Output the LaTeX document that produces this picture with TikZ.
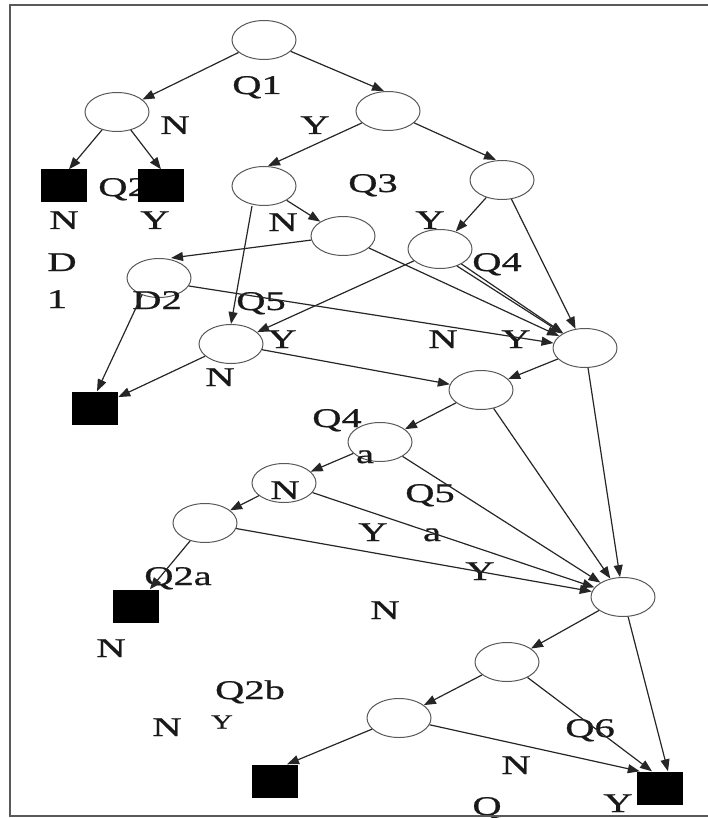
\documentclass[tikz,border=0pt]{standalone}
\usepackage{fontspec}
\setmainfont{Liberation Serif}[FakeStretch=1.5,FakeBold=0.8]
\usetikzlibrary{shapes.geometric,arrows.meta}
\begin{document}
\begin{tikzpicture}[x=1pt,y=-1pt,
  st/.style={draw=black!65, line width=1pt, ellipse, minimum width=64pt, minimum height=39pt, inner sep=0pt},
  sq/.style={fill=black, draw=none, minimum width=46pt, minimum height=33pt, inner sep=0pt},
  lbl/.style={font=\fontsize{27}{30}\selectfont, anchor=base, yshift=-9pt, inner sep=0pt, text=black!90},
  lbla/.style={font=\fontsize{27}{30}\selectfont, anchor=base, yshift=-6pt, inner sep=0pt, text=black!90},
  lbls/.style={font=\fontsize{20}{24}\selectfont, anchor=base, yshift=-6.5pt, inner sep=0pt, text=black!90},
  ar/.style={-{Triangle[length=12pt,width=9pt]}, line width=1.2pt, black!85},
]
\useasboundingbox (0,0) rectangle (707,818);
% decision nodes
\node[st] (n1) at (264,40) {};
\node[st] (n2) at (117,112) {};
\node[st] (n3) at (388,111) {};
\node[st] (n4) at (264,186) {};
\node[st] (n5) at (502,180) {};
\node[st] (n6) at (343,236) {};
\node[st] (n7) at (440,249) {};
\node[st] (n8) at (159,278) {};
\node[st] (n9) at (231,344) {};
\node[st] (n10) at (585,348) {};
\node[st] (n11) at (481,390) {};
\node[st] (n12) at (380,442) {};
\node[st] (n13) at (284,483) {};
\node[st] (n14) at (205,523) {};
\node[st] (n15) at (623,597) {};
\node[st] (n16) at (507,662) {};
\node[st] (n17) at (399,718) {};
% labels
\node[lbl] (l1) at (257,85) {Q1};
\node[lbl] (l2) at (175,125) {N};
\node[lbl] (l3) at (315,125) {Y};
\node[lbl] (l4) at (123,187) {Q2};
\node[lbl] (l5) at (64,220) {N};
\node[lbl] (l6) at (155,220) {Y};
\node[lbl] (l7) at (62,262) {D};
\node[lbl] (l8) at (57,299) {1};
\node[lbl] (l9) at (373,183) {Q3};
\node[lbl] (l10) at (283,222) {N};
\node[lbl] (l11) at (430,220) {Y};
\node[lbl] (l12) at (497,262) {Q4};
\node[lbl] (l13) at (157,300) {D2};
\node[lbl] (l14) at (261,301) {Q5};
\node[lbl] (l15) at (282,339) {Y};
\node[lbl] (l16) at (220,377) {N};
\node[lbl] (l17) at (443,339) {N};
\node[lbl] (l18) at (516,339) {Y};
\node[lbl] (l19) at (337,418) {Q4};
\node[lbla] (l20) at (365,457) {a};
\node[lbl] (l21) at (285,490) {N};
\node[lbl] (l22) at (430,493) {Q5};
\node[lbl] (l23) at (373,532) {Y};
\node[lbla] (l24) at (432,535) {a};
\node[lbl] (l25) at (480,571) {Y};
\node[lbl] (l26) at (385,610) {N};
\node[lbl] (l27) at (178,576) {Q2a};
\node[lbl] (l28) at (111,648) {N};
\node[lbl] (l29) at (250,690) {Q2b};
\node[lbl] (l30) at (167,727) {N};
\node[lbls] (l31) at (222,722) {Y};
\node[lbl] (l32) at (590,728) {Q6};
\node[lbl] (l33) at (516,765) {N};
\node[lbl] (l34) at (487,806) {Q};
\node[lbl] (l35) at (618,803) {Y};
% end nodes
\node[sq] (s1) at (64,186) {};
\node[sq] (s2) at (161,186) {};
\node[sq] (s3) at (95,408) {};
\node[sq] (s4) at (136,606) {};
\node[sq] (s5) at (275,781) {};
\node[sq] (s6) at (660,788) {};
% connectors
\draw[ar] (n1) -- (n2);
\draw[ar] (n1) -- ([xshift=-4pt]n3.north);
\draw[ar] (n2) -- ([xshift=5pt]s1.north);
\draw[ar] (n2) -- (s2.north);
\draw[ar] (n3) -- ([xshift=4pt]n4.north);
\draw[ar] (n3) -- ([xshift=-6pt]n5.north);
\draw[ar] (n4) -- (n6);
\draw[ar] ([xshift=-12pt]n4.south) -- (n9.north);
\draw[ar] (n5) -- (n7);
\draw[ar] (n5) -- (n10);
\draw[ar] (n6) -- ([xshift=12pt]n8.north);
\draw[ar] (n6) -- (n10);
\draw[ar] (n7) -- (n9);
\draw[ar] (n7.-45) -- (n10);
\draw[ar] (n7.-35) -- (n10);
\draw[ar] (n8.-15) -- (n10);
\draw[ar] (n8.-135) -- ([xshift=2pt]s3.north);
\draw[ar] (n9) -- (s3);
\draw[ar] (n9) -- (n11);
\draw[ar] (n10) -- (n11);
\draw[ar] (n10) -- (n15);
\draw[ar] (n11) -- (n12);
\draw[ar] (n11) -- (n15);
\draw[ar] (n12) -- (n13);
\draw[ar] (n12) -- (n15);
\draw[ar] (n13) -- (n14);
\draw[ar] (n13) -- (n15);
\draw[ar] (n14) -- (n15);
\draw[ar] (n14) -- (s4);
\draw[ar] (n15) -- (n16);
\draw[ar] (n15) -- ([xshift=8pt]s6.north);
\draw[ar] (n16) -- (n17);
\draw[ar] (n16) -- ([xshift=-8pt]s6.north);
\draw[ar] (n17) -- ([xshift=12pt]s5.north);
\draw[ar] (n17) -- ([xshift=3pt]s6.north west);
% frame
\draw[black!65, line width=1.6pt] (10,5) rectangle (730,816);
\end{tikzpicture}
\end{document}
